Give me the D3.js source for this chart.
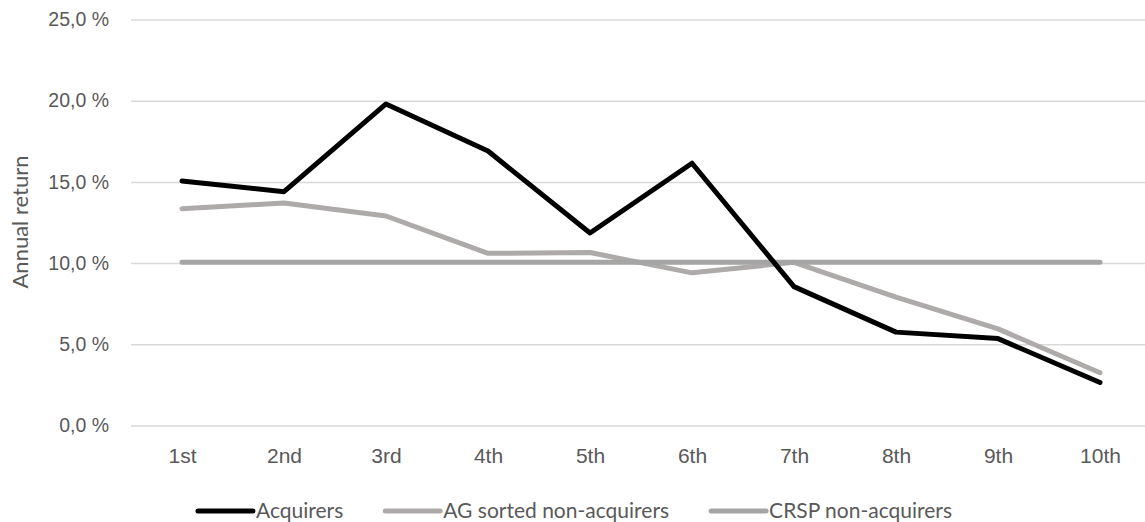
<!DOCTYPE html>
<html>
<head>
<meta charset="utf-8">
<script src="https://cdn.jsdelivr.net/npm/d3@7"></script>
<style>
  html, body { margin: 0; padding: 0; background: #fff; }
  svg { display: block; font-family: Lato, "Open Sans", sans-serif; }
</style>
</head>
<body>
<svg id="chart" width="1145" height="522"></svg>
<script>
// Deciles of the sample and their annual returns (%)
const categories = ["1st", "2nd", "3rd", "4th", "5th", "6th", "7th", "8th", "9th", "10th"];
const acquirers = [15.05, 14.4, 19.8, 16.9, 11.85, 16.15, 8.55, 5.75, 5.35, 2.65];
const agSorted = [13.35, 13.7, 12.9, 10.6, 10.65, 9.4, 10.05, 7.9, 5.95, 3.25];
const crsp = [10.05, 10.05, 10.05, 10.05, 10.05, 10.05, 10.05, 10.05, 10.05, 10.05];
const yTicks = [0, 5, 10, 15, 20, 25];
const seriesNames = ["Acquirers", "AG sorted non-acquirers", "CRSP non-acquirers"];

const colors = {
  "Acquirers": "#000000",
  "AG sorted non-acquirers": "#aeaaaa",
  "CRSP non-acquirers": "#a5a5a5"
};

const svg = d3.select("#chart");
const plot = { left: 131, right: 1151, top: 19.5, bottom: 425.5 };

const x = d3.scalePoint()
  .domain(categories)
  .range([plot.left, plot.right])
  .padding(0.5);

const y = d3.scaleLinear()
  .domain([0, 25])
  .range([plot.bottom, plot.top]);

const textColor = "#595959";
const fmt = v => d3.format(".1f")(v).replace(".", ",") + " %";

// Horizontal gridlines with value labels
const yAxis = d3.axisLeft(y)
  .tickValues(yTicks)
  .tickSize(-(plot.right - plot.left))
  .tickFormat(fmt)
  .tickPadding(22);

const gy = svg.append("g")
  .attr("transform", `translate(${plot.left},0)`)
  .call(yAxis);
gy.select(".domain").remove();
gy.selectAll(".tick line").attr("stroke", "#d9d9d9").attr("stroke-width", 1.5);
gy.selectAll(".tick text")
  .attr("fill", textColor)
  .style("font-size", "19.5px");

// Category axis labels
const xAxis = d3.axisBottom(x).tickSize(0).tickPadding(23);
const gx = svg.append("g")
  .attr("transform", `translate(0,${plot.bottom})`)
  .call(xAxis);
gx.select(".domain").remove();
gx.selectAll(".tick text")
  .attr("fill", textColor)
  .style("font-size", "21px");

// Axis title
svg.append("text")
  .attr("transform", `translate(28,222) rotate(-90)`)
  .attr("text-anchor", "middle")
  .attr("fill", textColor)
  .style("font-size", "22px")
  .text("Annual return");

// Series lines
const line = d3.line()
  .x((d, i) => x(categories[i]))
  .y(d => y(d));

const seriesData = {
  "Acquirers": acquirers,
  "AG sorted non-acquirers": agSorted,
  "CRSP non-acquirers": crsp
};

["AG sorted non-acquirers", "CRSP non-acquirers", "Acquirers"].forEach(name => {
  svg.append("path")
    .datum(seriesData[name])
    .attr("d", line)
    .attr("fill", "none")
    .attr("stroke", colors[name])
    .attr("stroke-width", 5)
    .attr("stroke-linejoin", "round")
    .attr("stroke-linecap", "round");
});

// Legend
const legend = svg.append("g");
const legendY = 511;
const markerLen = 55, markerGap = 3, itemGap = 42;
const items = seriesNames.map(name => {
  const g = legend.append("g");
  g.append("line")
    .attr("x1", 0).attr("x2", markerLen)
    .attr("y1", legendY).attr("y2", legendY)
    .attr("stroke", colors[name])
    .attr("stroke-width", 5)
    .attr("stroke-linecap", "round");
  const t = g.append("text")
    .attr("x", markerLen + markerGap)
    .attr("y", legendY)
    .attr("dy", "0.35em")
    .attr("fill", textColor)
    .style("font-size", "21px")
    .text(name);
  return { g, w: markerLen + markerGap + t.node().getComputedTextLength() };
});
const total = d3.sum(items, d => d.w) + itemGap * (items.length - 1);
let cx = 575 - total / 2;
items.forEach(it => {
  it.g.attr("transform", `translate(${cx},0)`);
  cx += it.w + itemGap;
});
</script>
</body>
</html>
